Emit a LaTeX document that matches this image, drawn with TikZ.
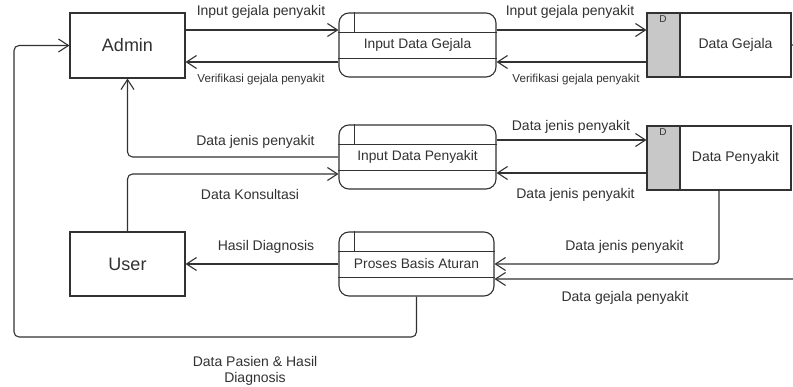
\documentclass[tikz,border=0pt]{standalone}
\usepackage{fontspec}
\setmainfont{Liberation Sans}
\usetikzlibrary{arrows.meta}
\definecolor{ink}{RGB}{50,50,50}
\definecolor{storegray}{RGB}{200,200,200}
\tikzset{
  entity/.style={draw=ink, line width=1.1pt, minimum width=115pt, minimum height=65pt,
    inner sep=0pt, font=\fontsize{18}{20}\selectfont, text=ink},
  procbox/.style={draw=ink, line width=1.1pt, rounded corners=10pt, minimum width=157pt,
    minimum height=64pt, inner sep=0pt, font=\fontsize{13.8}{15}\selectfont, text=ink},
  storebox/.style={draw=ink, line width=1.1pt, minimum width=144pt, minimum height=64pt,
    inner sep=0pt, font=\fontsize{14}{16}\selectfont, text=ink,
    path picture={
      \fill[storegray] (path picture bounding box.north west) rectangle
        ([xshift=33pt]path picture bounding box.south west);
      \draw[ink, line width=1.3pt] ([xshift=33pt]path picture bounding box.north west) --
        ([xshift=33pt]path picture bounding box.south west);}},
  flow/.style={draw=ink, line width=1.1pt, rounded corners=5pt,
    -{Straight Barb[length=10pt,width=13pt,line width=1.1pt]}},
  lbl/.style={font=\fontsize{14}{15.5}\selectfont, text=ink, inner sep=0pt},
  smalllbl/.style={font=\fontsize{11.6}{13}\selectfont, text=ink, inner sep=0pt},
}
\newcommand{\procdividers}[1]{%
  \draw[ink, line width=1.1pt] ([yshift=-20pt]#1.north west) -- ([yshift=-20pt]#1.north east);
  \draw[ink, line width=1.1pt] ([yshift=19pt]#1.south west) -- ([yshift=19pt]#1.south east);
  \draw[ink, line width=1.1pt] ([xshift=16pt]#1.north west) -- ([xshift=16pt,yshift=-20pt]#1.north west);}
\begin{document}
\begin{tikzpicture}[x=1pt, y=-1pt]
\clip (0,0) rectangle (793,387);
\fill[white] (0,0) rectangle (793,387);

% external entities
\node[entity] (admin) at (127.5,45.5) {Admin};
\node[entity, minimum height=64pt] (user) at (127.5,264) {User};

% processes
\node[procbox] (pgejala) at (417.5,45) {Input Data Gejala};
\node[procbox] (ppenyakit) at (417.5,157) {Input Data Penyakit};
\node[procbox, minimum width=155pt] (paturan) at (416.5,264) {Proses Basis Aturan};
\procdividers{pgejala}
\procdividers{ppenyakit}
\procdividers{paturan}

% data stores
\node[storebox] (sgejala) at (719,45) {\hspace*{33pt}Data Gejala};
\node[storebox] (spenyakit) at (719,158) {\hspace*{33pt}Data Penyakit};
\node[font=\fontsize{10}{11}\selectfont, text=ink, inner sep=0pt] (dg) at ([xshift=16.5pt,yshift=-7pt]sgejala.north west) {D};
\node[font=\fontsize{10}{11}\selectfont, text=ink, inner sep=0pt] (dp) at ([xshift=16.5pt,yshift=-7pt]spenyakit.north west) {D};

% flows between admin, input gejala and data gejala
\draw[flow] ([yshift=15.5pt]admin.east) -- ([yshift=15.5pt]admin.east -| pgejala.west);
\draw[flow] ([yshift=-17pt]pgejala.west) -- ([yshift=-17pt]pgejala.west -| admin.east);
\draw[flow] ([yshift=15pt]pgejala.east) -- ([yshift=15pt]pgejala.east -| sgejala.west);
\draw[flow] ([yshift=-17pt]sgejala.west) -- ([yshift=-17pt]sgejala.west -| pgejala.east);
\node[lbl] (l1) at (261,12) {Input gejala penyakit};
\node[smalllbl] (l2) at (261,80) {Verifikasi gejala penyakit};
\node[lbl] (l3) at (570,12) {Input gejala penyakit};
\node[smalllbl] (l4) at (576,80) {Verifikasi gejala penyakit};

% flows around input data penyakit
\draw[flow] (ppenyakit.west) -| (admin.south);
\draw[flow] (user.north) |- ([yshift=-17pt]ppenyakit.west);
\draw[flow] ([yshift=17pt]ppenyakit.east) -- ([yshift=18pt]spenyakit.west);
\draw[flow] ([yshift=-15pt]spenyakit.west) -- ([yshift=-16pt]ppenyakit.east);
\node[lbl] (l5) at (255.5,142) {Data jenis penyakit};
\node[lbl] (l6) at (250,194) {Data Konsultasi};
\node[lbl] (l7) at (571,127) {Data jenis penyakit};
\node[lbl] (l8) at (575.5,195) {Data jenis penyakit};

% flows into and out of proses basis aturan
\draw[flow] (spenyakit.south) |- (paturan.east);
\coordinate (gturn) at ([xshift=20pt]sgejala.east);
\draw[flow] (sgejala.east) -- (gturn) |- ([yshift=-15pt]paturan.east);
\draw[flow] (paturan.west) -- (user.east);
\draw[flow] (paturan.south) |- (14,337) |- (admin.west);
\node[lbl] (l9) at (624.5,247) {Data jenis penyakit};
\node[lbl] (l10) at (625,298) {Data gejala penyakit};
\node[lbl] (l11) at (266,247) {Hasil Diagnosis};
\node[lbl, align=center] (l12) at (255,371) {Data Pasien \& Hasil\\Diagnosis};
\end{tikzpicture}
\end{document}
